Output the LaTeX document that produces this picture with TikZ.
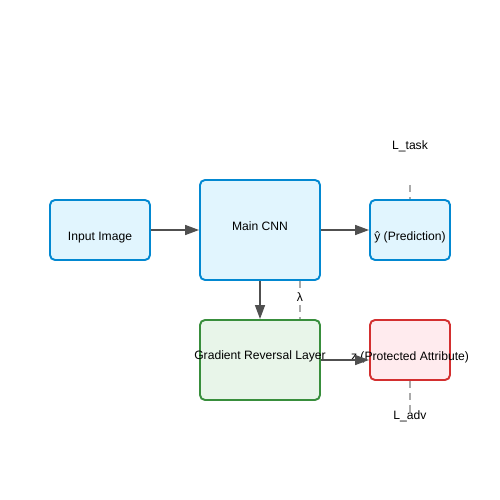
\documentclass[tikz,border=0pt]{standalone}
\usepackage{fontspec}
\setmainfont{Liberation Sans}
\usepackage{tikz}
\usetikzlibrary{arrows.meta}

\definecolor{cnnblue}{RGB}{2,136,209}
\definecolor{cnnfill}{RGB}{225,245,254}
\definecolor{grlgreen}{RGB}{56,142,60}
\definecolor{grlfill}{RGB}{232,245,233}
\definecolor{advred}{RGB}{211,47,47}
\definecolor{advfill}{RGB}{255,235,238}
\definecolor{flowgrey}{RGB}{80,80,80}
\definecolor{lossgrey}{RGB}{170,170,170}

\begin{document}
\begin{tikzpicture}[
    font=\fontsize{6.9}{8}\selectfont,
    block/.style={draw=cnnblue, fill=cnnfill, line width=1.1pt, rounded corners=0.1cm, inner sep=0pt},
    flow/.style={draw=flowgrey, line width=0.85pt, -{Triangle[length=0.28cm,width=0.2cm]}},
    loss/.style={draw=lossgrey, line width=0.85pt, dash pattern=on 0.14cm off 0.1cm}
  ]
      \useasboundingbox (0,0) rectangle (10,10);

      \node (img) [block, minimum width=2cm, minimum height=1.2cm,
        label={[yshift=-0.15cm]center:Input Image}] at (2,5.4) {};
      \node (cnn) [block, minimum width=2.4cm, minimum height=2cm,
        label={[yshift=0.07cm]center:Main CNN}] at (5.2,5.4) {};
      \node (pred) [block, minimum width=1.6cm, minimum height=1.2cm,
        label={[yshift=-0.15cm]center:ŷ (Prediction)}] at (8.2,5.4) {};
      \node (grl) [block, draw=grlgreen, fill=grlfill, minimum width=2.4cm, minimum height=1.6cm,
        label={[yshift=0.07cm]center:Gradient Reversal Layer}] at (5.2,2.8) {};
      \node (attr) [block, draw=advred, fill=advfill, minimum width=1.6cm, minimum height=1.2cm,
        label={[yshift=-0.15cm]center:z (Protected Attribute)}] at (8.2,3.0) {};

      \node (ltask) at (8.2,7.08) {L\_task};
      \coordinate (ltaskend) at (8.2,6.3);
      \coordinate (ladvend) at (8.2,1.74);

      \draw[flow] (img.east) -- (cnn.west);
      \draw[flow] (cnn.east) -- (pred.west);
      \draw[flow] (cnn.south) -- (grl.north);
      \draw[flow] (grl.east) -- (grl.east -| attr.west);

      \draw[loss] (ltaskend) -- (pred.north);
      \draw[loss] (cnn.south -| 6,0) -- (grl.north -| 6,0);
      \node (lam) [fill=white, inner sep=1pt] at (6,4.06) {λ};
      \draw[loss] (attr.south) -- (ladvend);
      \node (ladv) at (8.2,1.68) {L\_adv};
\end{tikzpicture}
\end{document}
